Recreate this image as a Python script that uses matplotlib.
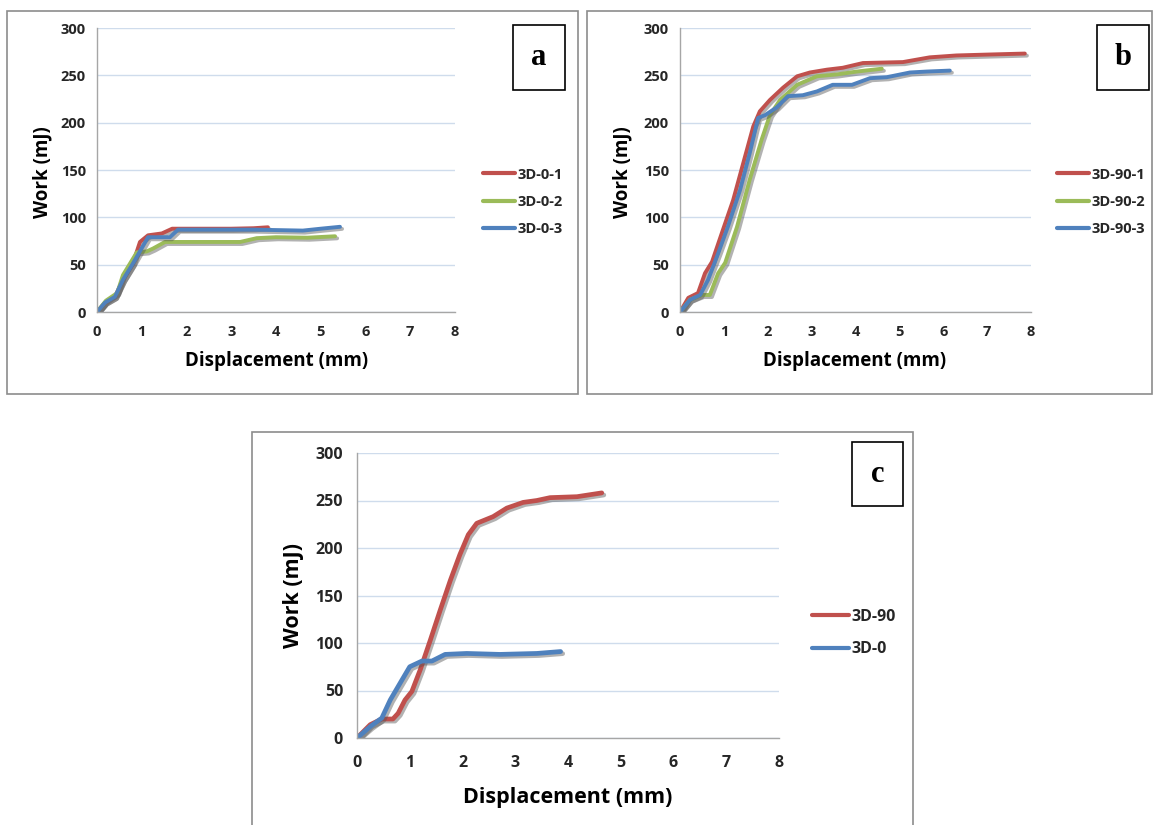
import matplotlib
matplotlib.use("Agg")
import matplotlib.pyplot as plt
import matplotlib.patheffects as pe
from matplotlib.patches import Rectangle

plt.rcParams['font.family'] = ['Open Sans', 'DejaVu Sans']
plt.rcParams['font.weight'] = 'bold'

RED = '#C0504D'
GREEN = '#9BBB59'
BLUE = '#4F81BD'
GRID = '#CFDCEC'

# panel a: 3D-0 specimens
a1_x = [0, 0.18, 0.4, 0.58, 0.8, 0.96, 1.14, 1.45, 1.68, 2.2, 3.0, 3.5, 3.82]
a1_y = [0, 10, 16, 34, 51, 74, 81, 83, 88, 88, 88, 88.5, 89.5]
a2_x = [0, 0.2, 0.45, 0.58, 0.89, 1.11, 1.25, 1.52, 2.2, 3.2, 3.57, 4.0, 4.7, 5.32]
a2_y = [0, 12, 20, 39, 63, 64, 67, 74, 74, 74, 78, 79, 78.5, 80]
a3_x = [0, 0.18, 0.4, 0.58, 0.8, 1.14, 1.63, 1.81, 2.5, 3.5, 4.6, 5.0, 5.43]
a3_y = [0, 10, 16, 34, 51, 79, 79, 87, 87, 87, 86, 88, 90]

# panel b: 3D-90 specimens
b1_x = [0, 0.19, 0.41, 0.57, 0.73, 0.98, 1.21, 1.44, 1.67, 1.82, 2.05, 2.35, 2.67, 2.96,
        3.35, 3.71, 4.17, 5.08, 5.69, 6.3, 7.06, 7.86]
b1_y = [0, 15, 20, 41, 53, 87, 118, 157, 196, 212, 224, 237, 249, 253,
        256, 258, 263, 264, 269, 271, 272, 273]
b2_x = [0, 0.23, 0.5, 0.68, 0.87, 1.03, 1.3, 1.59, 1.86, 2.05, 2.28, 2.67, 3.12, 3.58, 4.03, 4.6]
b2_y = [0, 13, 18, 18, 41, 52, 90, 140, 182, 208, 224, 240, 249, 251, 254, 257]
b3_x = [0, 0.23, 0.46, 0.64, 0.87, 1.09, 1.37, 1.59, 1.78, 1.94, 2.2, 2.46, 2.8, 3.12,
        3.48, 3.92, 4.33, 4.71, 5.24, 5.62, 6.15]
b3_y = [0, 13, 18, 34, 62, 90, 129, 168, 205, 208, 216, 228, 229, 233,
        240, 240, 247, 248, 253, 254, 255]

# panel c: averages
c90_x = [0, 0.25, 0.47, 0.68, 0.78, 0.91, 1.04, 1.2, 1.39, 1.58, 1.77, 1.95, 2.11, 2.27,
         2.58, 2.84, 3.15, 3.41, 3.66, 4.17, 4.64]
c90_y = [0, 14, 20, 20, 26, 40, 49, 72, 103, 135, 166, 193, 214, 226,
         233, 242, 248, 250, 253, 254, 258]
c0_x = [0, 0.25, 0.47, 0.63, 0.82, 1.0, 1.23, 1.42, 1.67, 2.08, 2.71, 3.41, 3.86]
c0_y = [0, 12, 21, 40, 58, 75, 81, 81, 88, 89, 88, 89, 91]

W, H = 1155, 825
fig = plt.figure(figsize=(11.55, 8.25), dpi=100)


def fx(px):
    return px / W


def fy(py):
    return 1 - py / H


def box(x0, y0, x1, y1, color, lw):
    fig.patches.append(Rectangle((fx(x0), fy(y1)), fx(x1) - fx(x0), fy(y0) - fy(y1),
                                 transform=fig.transFigure, fill=False,
                                 edgecolor=color, linewidth=lw))


def make_panel(left, right, top, bottom, series, tick_fs, pad_x, pad_y, lw,
               leg_x, leg_y, leg_fs, leg_space, handle_len):
    ax = fig.add_axes([fx(left), fy(bottom), fx(right) - fx(left), fy(top) - fy(bottom)])
    for xs, ys, col, lab in series:
        ax.plot(xs, ys, color=col, lw=lw, label=lab, solid_capstyle='round',
                solid_joinstyle='round',
                path_effects=[pe.SimpleLineShadow(offset=(1.5, -1.5), shadow_color='#555555', alpha=0.45),
                              pe.Normal()])
    ax.set_xlim(0, 8)
    ax.set_ylim(0, 300)
    ax.set_xticks(range(0, 9))
    ax.set_yticks(range(0, 301, 50))
    ax.yaxis.grid(True, color=GRID, lw=1)
    ax.set_axisbelow(True)
    for s in ['top', 'right']:
        ax.spines[s].set_visible(False)
    for s in ['left', 'bottom']:
        ax.spines[s].set_color('#A6A6A6')
        ax.spines[s].set_linewidth(1)
    ax.tick_params(axis='both', length=0, labelsize=tick_fs, colors='#262626')
    ax.tick_params(axis='x', pad=pad_x)
    ax.tick_params(axis='y', pad=pad_y)
    for t in ax.get_xticklabels() + ax.get_yticklabels():
        t.set_fontweight('bold')
    leg = ax.legend(loc='center left', bbox_to_anchor=(fx(leg_x), fy(leg_y)),
                    bbox_transform=fig.transFigure, frameon=False, fontsize=leg_fs,
                    labelspacing=leg_space, handlelength=handle_len, handletextpad=0.2,
                    borderpad=0, borderaxespad=0)
    for line in leg.get_lines():
        line.set_linewidth(3)
        line.set_path_effects([])
    for t in leg.get_texts():
        t.set_color('#262626')
    return ax


# panel frames
box(7, 11, 578, 394, '#8C8C8C', 1.2)
box(587, 11, 1152, 394, '#8C8C8C', 1.2)
box(252, 432, 913, 830, '#8C8C8C', 1.2)

make_panel(97, 455, 28, 312,
           [(a1_x, a1_y, RED, '3D-0-1'), (a2_x, a2_y, GREEN, '3D-0-2'), (a3_x, a3_y, BLUE, '3D-0-3')],
           10.5, 9, 8, 2.8, 483, 202, 10.5, 0.92, 2.2)
make_panel(680, 1031, 28, 312,
           [(b1_x, b1_y, RED, '3D-90-1'), (b2_x, b2_y, GREEN, '3D-90-2'), (b3_x, b3_y, BLUE, '3D-90-3')],
           10.5, 9, 8, 2.8, 1057, 202, 10.5, 0.92, 2.2)
make_panel(357, 779, 453, 738,
           [(c90_x, c90_y, RED, '3D-90'), (c0_x, c0_y, BLUE, '3D-0')],
           11.5, 12, 10, 3.4, 812, 633, 11.5, 1.05, 2.3)

# axis titles
fig.text(fx(277), fy(361), 'Displacement (mm)', ha='center', va='center', fontsize=13.5, fontweight='bold')
fig.text(fx(42), fy(172), 'Work (mJ)', ha='center', va='center', rotation=90, fontsize=13.5, fontweight='bold')
fig.text(fx(855), fy(361), 'Displacement (mm)', ha='center', va='center', fontsize=13.5, fontweight='bold')
fig.text(fx(622), fy(172), 'Work (mJ)', ha='center', va='center', rotation=90, fontsize=13.5, fontweight='bold')
fig.text(fx(568), fy(797), 'Displacement (mm)', ha='center', va='center', fontsize=15.5, fontweight='bold')
fig.text(fx(293), fy(596), 'Work (mJ)', ha='center', va='center', rotation=90, fontsize=15.5, fontweight='bold')

# panel letters
for (x0, y0, x1, y1, letter) in [(513, 25, 565, 90, 'a'), (1097, 25, 1149, 90, 'b'),
                                 (852, 442, 903, 506, 'c')]:
    box(x0, y0, x1, y1, 'black', 1.2)
    fig.text(fx((x0 + x1) / 2), fy((y0 + y1) / 2), letter, ha='center', va='center',
             fontsize=22, fontweight='bold', family='Liberation Serif')

fig.savefig('out.png', dpi=100)
